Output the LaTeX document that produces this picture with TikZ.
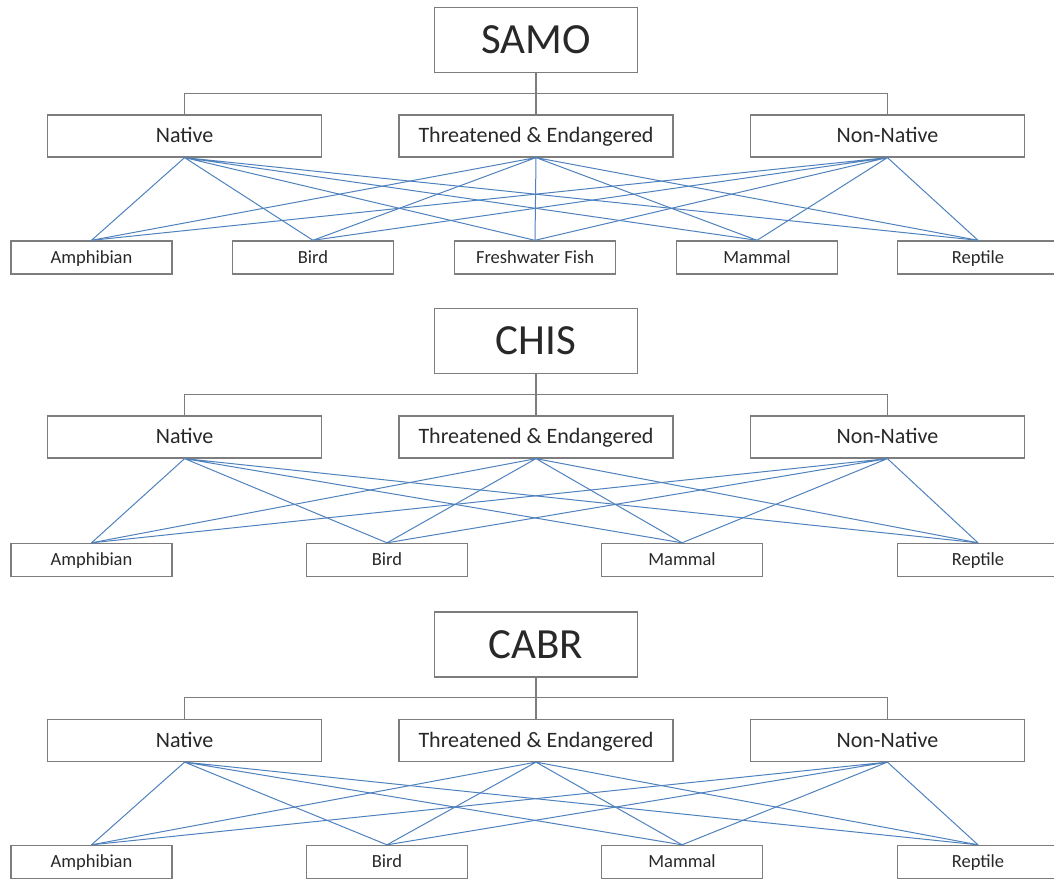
\documentclass[tikz,border=0pt]{standalone}
\usepackage{fontspec}
\setmainfont{Carlito}
\usetikzlibrary{positioning}
\definecolor{linkblue}{RGB}{79,129,189}
\definecolor{boxgray}{RGB}{125,125,125}
\definecolor{textgray}{RGB}{40,40,40}

\begin{document}
\begin{tikzpicture}[
  x=0.5pt, y=-0.5pt,
  node distance=20.5pt and 38pt,
  every node/.style={text=textgray, inner sep=0pt, text depth=0pt},
  park/.style={draw=boxgray, line width=0.7pt, fill=white, minimum width=101.5pt, minimum height=32.5pt, text height=13.6pt, font=\fontsize{21.5}{24}\selectfont},
  group/.style={draw=boxgray, line width=0.7pt, fill=white, minimum width=137pt, minimum height=21pt, text height=6.9pt, font=\fontsize{11}{13}\selectfont},
  taxon/.style={draw=boxgray, line width=0.7pt, fill=white, minimum width=80.5pt, minimum height=16.5pt, text height=5.8pt, font=\fontsize{9.25}{11}\selectfont},
  tree/.style={draw=boxgray, line width=0.7pt},
  link/.style={draw=linkblue, line width=0.5pt}
]
\useasboundingbox (0,0) rectangle (1054,880);
\clip (0,0) rectangle (1054,880);

% SAMO nodes
\node[park] (samo) at (536,40) {SAMO};
\node[group, below=of samo] (samoTE) {Threatened \& Endangered};
\node[group, left=of samoTE] (samoNat) {Native};
\node[group, right=of samoTE] (samoNN) {Non-Native};
\node[taxon] (samoAmph) at (91.5,257.5) {Amphibian};
\node[taxon] (samoBird) at (313,257.5) {Bird};
\node[taxon] (samoFish) at (535,257.5) {Freshwater Fish};
\node[taxon] (samoMamm) at (757,257.5) {Mammal};
\node[taxon] (samoRept) at (978,257.5) {Reptile};

% SAMO lines
\draw[tree] (samo) -- (samoTE);
\draw[tree] (samoNat.north) -- ++(0,-21) -| (samoNN.north);
\draw[link] (samoNat.south) -- (samoAmph.north) (samoNat.south) -- (samoBird.north)
  (samoNat.south) -- (samoFish.north) (samoNat.south) -- (samoMamm.north) (samoNat.south) -- (samoRept.north);
\draw[link] (samoTE.south) -- (samoAmph.north) (samoTE.south) -- (samoBird.north)
  (samoTE.south) -- (samoFish.north) (samoTE.south) -- (samoMamm.north) (samoTE.south) -- (samoRept.north);
\draw[link] (samoNN.south) -- (samoAmph.north) (samoNN.south) -- (samoBird.north)
  (samoNN.south) -- (samoFish.north) (samoNN.south) -- (samoMamm.north) (samoNN.south) -- (samoRept.north);

% CHIS nodes
\node[park] (chis) at (536,341) {CHIS};
\node[group, below=of chis] (chisTE) {Threatened \& Endangered};
\node[group, left=of chisTE] (chisNat) {Native};
\node[group, right=of chisTE] (chisNN) {Non-Native};
\node[taxon] (chisAmph) at (91.5,560) {Amphibian};
\node[taxon] (chisBird) at (387,560) {Bird};
\node[taxon] (chisMamm) at (682,560) {Mammal};
\node[taxon] (chisRept) at (978,560) {Reptile};

% CHIS lines
\draw[tree] (chis) -- (chisTE);
\draw[tree] (chisNat.north) -- ++(0,-21) -| (chisNN.north);
\draw[link] (chisNat.south) -- (chisAmph.north) (chisNat.south) -- (chisBird.north)
  (chisNat.south) -- (chisMamm.north) (chisNat.south) -- (chisRept.north);
\draw[link] (chisTE.south) -- (chisAmph.north) (chisTE.south) -- (chisBird.north)
  (chisTE.south) -- (chisMamm.north) (chisTE.south) -- (chisRept.north);
\draw[link] (chisNN.south) -- (chisAmph.north) (chisNN.south) -- (chisBird.north)
  (chisNN.south) -- (chisMamm.north) (chisNN.south) -- (chisRept.north);

% CABR nodes
\node[park] (cabr) at (536,644.5) {CABR};
\node[group, below=of cabr] (cabrTE) {Threatened \& Endangered};
\node[group, left=of cabrTE] (cabrNat) {Native};
\node[group, right=of cabrTE] (cabrNN) {Non-Native};
\node[taxon] (cabrAmph) at (91.5,862) {Amphibian};
\node[taxon] (cabrBird) at (387,862) {Bird};
\node[taxon] (cabrMamm) at (682,862) {Mammal};
\node[taxon] (cabrRept) at (978,862) {Reptile};

% CABR lines
\draw[tree] (cabr) -- (cabrTE);
\draw[tree] (cabrNat.north) -- ++(0,-21) -| (cabrNN.north);
\draw[link] (cabrNat.south) -- (cabrAmph.north) (cabrNat.south) -- (cabrBird.north)
  (cabrNat.south) -- (cabrMamm.north) (cabrNat.south) -- (cabrRept.north);
\draw[link] (cabrTE.south) -- (cabrAmph.north) (cabrTE.south) -- (cabrBird.north)
  (cabrTE.south) -- (cabrMamm.north) (cabrTE.south) -- (cabrRept.north);
\draw[link] (cabrNN.south) -- (cabrAmph.north) (cabrNN.south) -- (cabrBird.north)
  (cabrNN.south) -- (cabrMamm.north) (cabrNN.south) -- (cabrRept.north);

\end{tikzpicture}
\end{document}
